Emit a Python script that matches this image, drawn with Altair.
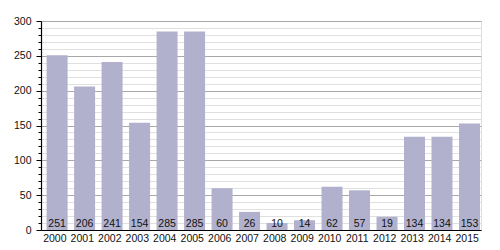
import altair as alt
import pandas as pd

years = [str(y) for y in range(2000, 2016)]
values = [251, 206, 241, 154, 285, 285, 60, 26, 10, 14, 62, 57, 19, 134, 134, 153]
y_ticks = list(range(0, 301, 10))

df = pd.DataFrame({"year": years, "value": values})

FONT = "Liberation Sans"

x = alt.X("year:N", sort=years, title=None,
          scale=alt.Scale(paddingInner=0.236, paddingOuter=0.12),
          axis=alt.Axis(labelAngle=0, ticks=False, domainColor="#000000", domainWidth=1.2,
                        labelColor="#111111", labelFontSize=10.5, labelFont=FONT, labelPadding=3))
y = alt.Y("value:Q", title=None,
          scale=alt.Scale(domain=[0, 300], nice=False),
          axis=alt.Axis(values=y_ticks, tickCount=len(y_ticks),
                        labelOverlap=False,
                        labelExpr="datum.value % 50 === 0 ? datum.label : ''",
                        gridColor={"condition": {"test": "datum.value % 50 === 0", "value": "#a8a8a8"}, "value": "#e0e0e0"},
                        tickSize={"condition": {"test": "datum.value % 50 === 0", "value": 5}, "value": 3},
                        tickColor="#000000", domainColor="#000000", domainWidth=1.2,
                        labelColor="#111111", labelFontSize=10.5, labelFont=FONT, labelPadding=5))

bars = alt.Chart(df).mark_bar(color="#b1b1cd", xOffset=2.3).encode(x=x, y=y)
text = alt.Chart(df).mark_text(baseline="bottom", dy=-1, xOffset=2.3, fontSize=10.5,
                               font=FONT, color="#111111").encode(
    x=alt.X("year:N", sort=years), y=alt.datum(0), text="value:Q")

chart = (bars + text).properties(width=440, height=209, padding={"left": 41, "top": 21, "right": 19, "bottom": 20},
                                 autosize=alt.AutoSizeParams(type="none")).configure_view(stroke=None).configure(background="white")

chart.save("out.html", embed_options={"renderer": "svg", "actions": False})
